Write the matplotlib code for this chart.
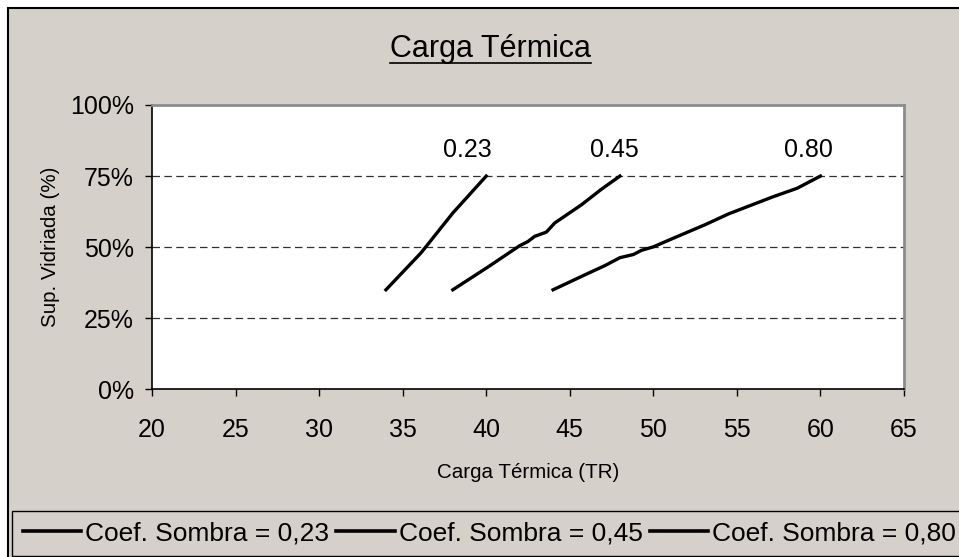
import numpy as np
import matplotlib
matplotlib.use("Agg")
import matplotlib.pyplot as plt
from matplotlib.patches import Rectangle
from matplotlib.lines import Line2D
from matplotlib.ticker import PercentFormatter

plt.rcParams['font.family'] = ['Liberation Sans', 'DejaVu Sans']

# data (carga termica in TR, superficie vidriada as fraction)
x_023 = [34.0, 36.1, 38.0, 40.0]
y_023 = [0.35, 0.48, 0.62, 0.75]

x_045 = [38.0, 40.1, 42.0, 42.5, 42.9, 43.6, 44.1, 45.7, 46.9, 48.0]
y_045 = [0.35, 0.43, 0.505, 0.52, 0.538, 0.553, 0.585, 0.649, 0.704, 0.75]

x_080 = [44.0, 46.1, 47.1, 48.0, 48.8, 49.3, 50.0, 51.1, 53.1, 54.5, 57.2, 58.6, 60.0]
y_080 = [0.35, 0.408, 0.435, 0.463, 0.474, 0.489, 0.501, 0.529, 0.579, 0.617, 0.678, 0.707, 0.75]

series_labels = ["Coef. Sombra = 0,23", "Coef. Sombra = 0,45", "Coef. Sombra = 0,80"]
curve_tags = ["0.23", "0.45", "0.80"]
tag_x = [38.85, 47.65, 59.3]
tag_y = [0.84, 0.84, 0.84]

x_ticks = list(range(20, 66, 5))
y_ticks = [0, 0.25, 0.5, 0.75, 1.0]

W, H = 959, 557
bg = '#d6d0cb'

fig = plt.figure(figsize=(W / 100, H / 100), dpi=100, facecolor='white')

# chart area with black outline, cut off on right/bottom like the source
fig.patches.append(Rectangle((8 / W, -0.1), 1.2, (H - 8) / H + 0.1,
                             transform=fig.transFigure, facecolor=bg,
                             edgecolor='black', lw=1.5, zorder=-1))

ax = fig.add_axes([152 / W, (H - 389.3) / H, (904 - 152) / W, (389.3 - 105) / H])
ax.set_facecolor('white')

ax.plot(x_023, y_023, color='black', lw=2.4, zorder=3)
ax.plot(x_045, y_045, color='black', lw=2.4, zorder=3)
ax.plot(x_080, y_080, color='black', lw=2.4, zorder=3)

for t, tx, ty in zip(curve_tags, tag_x, tag_y):
    ax.text(tx, ty, t, ha='center', va='center', fontsize=18)

for g in [0.25, 0.5, 0.75]:
    ax.axhline(g, color='#303030', lw=0.9, ls=(0, (6, 3.5)), zorder=1)

ax.set_xlim(20, 65)
ax.set_ylim(0, 1)
ax.set_xticks(x_ticks)
ax.set_yticks(y_ticks)
ax.yaxis.set_major_formatter(PercentFormatter(1.0, decimals=0))
ax.tick_params(axis='both', direction='out', length=5, width=1, color='black',
               labelsize=18)
ax.tick_params(axis='x', pad=16)
ax.tick_params(axis='y', pad=8)

for s in ['left', 'bottom']:
    ax.spines[s].set_color('black')
    ax.spines[s].set_linewidth(1.2)
for s in ['top', 'right']:
    ax.spines[s].set_color('#8c8c8c')
    ax.spines[s].set_linewidth(2)

ax.set_xlabel("Carga Térmica (TR)", fontsize=14.8, labelpad=15)
ax.set_ylabel("Sup. Vidriada (%)", fontsize=14.8, labelpad=7)

# title, underlined
title = fig.text(490 / W, (H - 49) / H, "Carga Térmica", ha='center', va='center',
                 fontsize=22)
fig.canvas.draw()
bb = title.get_window_extent(fig.canvas.get_renderer())
uy = (H - 63) / H
fig.add_artist(Line2D([bb.x0 / W, bb.x1 / W], [uy, uy], color='black', lw=1.2,
                      transform=fig.transFigure))

handles = [Line2D([], [], color='black', lw=2.6) for _ in series_labels]
leg = fig.legend(handles, series_labels, loc='lower left',
                 bbox_to_anchor=(12 / W, 1 / H), ncol=3, fontsize=19,
                 frameon=True, fancybox=False, edgecolor='black',
                 facecolor=bg, framealpha=1, borderaxespad=0,
                 handlelength=2.2, handletextpad=0.15, columnspacing=0.3,
                 borderpad=0.4)
leg.get_frame().set_linewidth(1.0)

fig.savefig("out.png", dpi=100, facecolor=fig.get_facecolor())
